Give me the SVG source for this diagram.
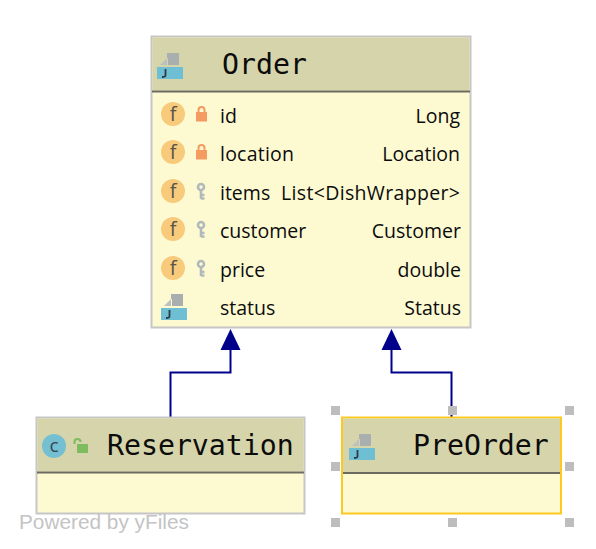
<svg xmlns="http://www.w3.org/2000/svg" width="596" height="549" viewBox="0 0 596 549">
<style>
.box{fill:#fdfad2;stroke:#c6c6c6;stroke-width:2}
.hd{fill:#d6d4aa}
.dv{stroke:#6b6b60;stroke-width:2}
.title{font-family:"DejaVu Sans Mono",monospace;font-size:28.200px;fill:#0c0c0c}
.t{font-family:"Open Sans","Noto Sans",sans-serif;font-size:19.500px;fill:#0c0c0c}
.r{text-anchor:end}
.fc{fill:#f8ca7b}
.ft{font-family:"Open Sans",sans-serif;font-size:20px;fill:#55554a;text-anchor:middle}
.edge{fill:none;stroke:#00008b;stroke-width:2}
.head{fill:#00008b}
.h{fill:#bdbdbd}
</style>
<defs>
<g id="jicon">
<path d="M0 12L7 5V12Z" fill="#bcc0bf"/>
<path d="M7 0H19V12H8V5H7Z" fill="#a9aeae"/>
<rect x="-3" y="14" width="26" height="12" fill="#6fbfd4"/>
<path d="M5.500 16V22.500Q5.500 24 2 24" fill="none" stroke="#2f3b40" stroke-width="1.800"/>
</g>
<g id="lock">
<path d="M-3 -2V-4A3 3 0 0 1 3 -4V-2" fill="none" stroke="#f59a60" stroke-width="2"/>
<rect x="-5.500" y="-2" width="11" height="9.500" fill="#f59a60"/>
</g>
<g id="key" fill="none" stroke="#b1b9bb" stroke-width="2.600">
<circle cx="0" cy="-3" r="3"/>
<path d="M0 0V9M0 5H3.500M0 8.500H3.500"/>
</g>
<g id="f">
<circle r="12" class="fc"/>
<text y="6.500" class="ft">f</text>
</g>
</defs>
<g id="connectors">
<path class="edge" d="M170.500 417V372.500H230.500V349"/>
<path class="head" d="M230.500 329L240.500 350H220.500Z"/>
<path class="edge" d="M451.500 417V372.500H391.500V349"/>
<path class="head" d="M391.500 329L401.500 350H381.500Z"/>
</g>
<g id="node-order">
<rect class="box" x="151.500" y="36.500" width="319" height="291"/>
<rect class="hd" x="152.500" y="37.500" width="317" height="53"/>
<path class="dv" d="M152 91.500H470"/>
<use href="#jicon" x="160" y="53"/>
<text class="title" x="222" y="74">Order</text>
<use href="#f" x="173" y="114"/><use href="#lock" x="201.500" y="114"/>
<text class="t" x="220" y="123">id</text><text class="t r" x="460" y="123">Long</text>
<use href="#f" x="173" y="152"/><use href="#lock" x="201.500" y="152"/>
<text class="t" x="220" y="161" textLength="74">location</text><text class="t r" x="460" y="161">Location</text>
<use href="#f" x="173" y="191"/><use href="#key" x="201" y="190"/>
<text class="t" x="220" y="200">items</text><text class="t" x="281" y="200" textLength="179">List&lt;DishWrapper&gt;</text>
<use href="#f" x="173" y="229"/><use href="#key" x="201" y="228"/>
<text class="t" x="220" y="238">customer</text><text class="t r" x="461" y="238">Customer</text>
<use href="#f" x="173" y="268"/><use href="#key" x="201" y="267"/>
<text class="t" x="220" y="277">price</text><text class="t r" x="461" y="277">double</text>
<use href="#jicon" x="164" y="294"/>
<text class="t" x="220" y="315">status</text><text class="t r" x="461" y="315">Status</text>
</g>
<g id="node-reservation">
<rect class="box" x="36.500" y="417.500" width="268" height="96"/>
<rect class="hd" x="37.500" y="418.500" width="266" height="53"/>
<path class="dv" d="M37 472.500H304"/>
<circle cx="54" cy="446" r="12" fill="#74c0d2"/>
<text x="54" y="452" font-family="Open Sans,sans-serif" font-size="19" fill="#37474f" text-anchor="middle">c</text>
<path d="M74.500 444V442A3 3 0 0 1 80.500 442" fill="none" stroke="#7fbb5f" stroke-width="2"/>
<rect x="77" y="444" width="11" height="9" fill="#7fbb5f"/>
<text class="title" x="107" y="454.500">Reservation</text>
</g>
<g id="node-preorder">
<rect x="342" y="417.500" width="219" height="96" fill="#fdfad2" stroke="#fcc91f" stroke-width="2"/>
<rect class="hd" x="343" y="418.500" width="217" height="54"/>
<path class="dv" d="M343 473H560"/>
<use href="#jicon" x="352" y="434"/>
<text class="title" x="413" y="454.500">PreOrder</text>
</g>
<g id="handles">
<rect class="h" x="331" y="406" width="9" height="9"/><rect class="h" x="448" y="406" width="9" height="9"/><rect class="h" x="565" y="406" width="9" height="9"/>
<rect class="h" x="331" y="462" width="9" height="9"/><rect class="h" x="565" y="462" width="9" height="9"/>
<rect class="h" x="331" y="518" width="9" height="9"/><rect class="h" x="448" y="518" width="9" height="9"/><rect class="h" x="565" y="518" width="9" height="9"/>
</g>
<text x="19" y="529" font-family="Liberation Sans,Arial,sans-serif" font-size="20.800" fill="#c4c4c4">Powered by yFiles</text>
</svg>
